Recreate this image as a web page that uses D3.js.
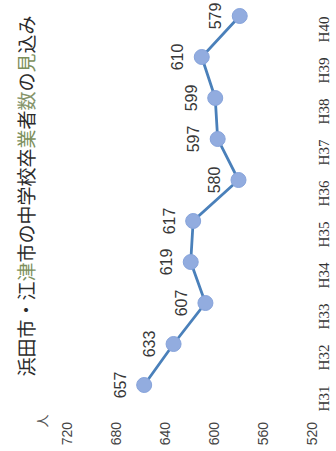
<!DOCTYPE html>
<html>
<head>
<meta charset="utf-8">
<script src="https://cdn.jsdelivr.net/npm/d3@7"></script>
<style>
  body { margin: 0; background: #fff; }
  svg { display: block; }
</style>
</head>
<body>
<div class="chart"></div>
<script>
const years = ['H31', 'H32', 'H33', 'H34', 'H35', 'H36', 'H37', 'H38', 'H39', 'H40'];
const graduates = [657, 633, 607, 619, 617, 580, 597, 599, 610, 579];
const yTicks = [520, 560, 600, 640, 680, 720];
const titleParts = [
  ['浜田市・江', '#2b2b2b'], ['津', '#7d8f5c'], ['市の中学校卒', '#2b2b2b'],
  ['業', '#7d8f5c'], ['者', '#2b2b2b'], ['数', '#86946a'], ['の', '#2b2b2b'],
  ['見', '#7d8f5c'], ['込み', '#2b2b2b']
];

const W = 336, H = 451;

// the page is a scan turned on its side, so draw the chart upright
// (451 wide, 336 tall) and rotate the whole thing -90deg
const svg = d3.select('.chart')
  .append('svg')
  .attr('width', W)
  .attr('height', H);

const g = svg.append('g')
  .attr('transform', `translate(0,${H}) rotate(-90)`);

const x = d3.scalePoint()
  .domain(years)
  .range([66, 435]);

const y = d3.scaleLinear()
  .domain([520, 720])
  .range([312, 67]);

// title
const title = g.append('text')
  .attr('x', 255)
  .attr('y', 25)
  .attr('text-anchor', 'middle')
  .attr('dominant-baseline', 'central')
  .style('font-family', '"Noto Sans CJK JP", sans-serif')
  .style('font-size', '19px');

title.selectAll('tspan')
  .data(titleParts)
  .enter()
  .append('tspan')
  .attr('fill', d => d[1])
  .text(d => d[0]);

// unit
g.append('text')
  .attr('x', 30)
  .attr('y', 41)
  .attr('text-anchor', 'middle')
  .attr('dominant-baseline', 'central')
  .style('font-family', '"Noto Sans CJK JP", sans-serif')
  .style('font-size', '13px')
  .attr('fill', '#555')
  .text('人');

// y axis, labels only
const yAxis = g.append('g')
  .attr('transform', 'translate(31,0)')
  .call(d3.axisLeft(y).tickValues(yTicks).tickSize(0).tickPadding(2));

yAxis.select('.domain').remove();
yAxis.selectAll('text')
  .style('font-family', '"Liberation Sans", Arial, sans-serif')
  .style('font-size', '14px')
  .attr('fill', '#444');

// x axis, labels only; the scanned labels sit a little left of their points
const xAxis = g.append('g')
  .attr('transform', 'translate(-14,318)')
  .call(d3.axisBottom(x).tickSize(0).tickPadding(0));

xAxis.select('.domain').remove();
xAxis.selectAll('text')
  .style('font-family', '"Liberation Serif", "Times New Roman", serif')
  .style('font-size', '15px')
  .attr('fill', '#333');

const line = d3.line()
  .x((d, i) => x(years[i]))
  .y(d => y(d));

g.append('path')
  .datum(graduates)
  .attr('d', line)
  .attr('fill', 'none')
  .attr('stroke', '#4a80ba')
  .attr('stroke-width', 2.8);

g.selectAll('circle')
  .data(graduates)
  .enter()
  .append('circle')
  .attr('cx', (d, i) => x(years[i]))
  .attr('cy', d => y(d))
  .attr('r', 7.5)
  .attr('fill', '#92acdf')
  .attr('stroke', '#86a3db')
  .attr('stroke-width', 1);

// value labels above each point
g.selectAll('.value')
  .data(graduates)
  .enter()
  .append('text')
  .attr('class', 'value')
  .attr('x', (d, i) => x(years[i]))
  .attr('y', d => y(d) - 24)
  .attr('text-anchor', 'middle')
  .attr('dominant-baseline', 'central')
  .style('font-family', '"Liberation Sans", Arial, sans-serif')
  .style('font-size', '16px')
  .attr('fill', '#383838')
  .text(d => d);
</script>
</body>
</html>
